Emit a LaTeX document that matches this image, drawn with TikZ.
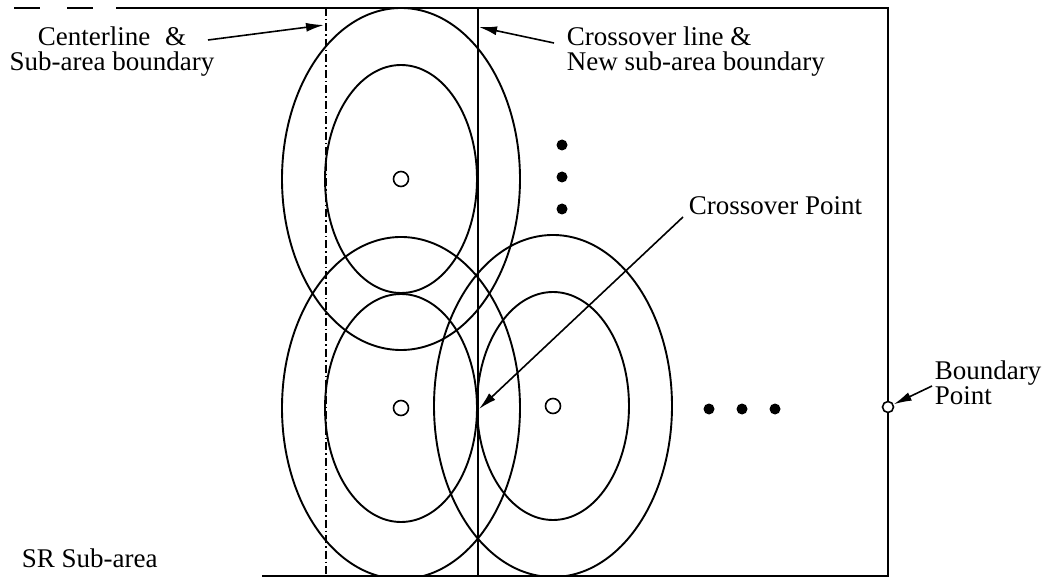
\documentclass[tikz,border=0pt]{standalone}
\usepackage{fontspec}
\setmainfont{Liberation Serif}
\usetikzlibrary{arrows.meta}

\begin{document}
\begin{tikzpicture}[x=1pt, y=-1pt, line width=1.9pt,
  lbl/.style={inner sep=0pt, font=\fontsize{27}{25}\selectfont},
  ptr/.style={-{Latex[length=18pt,width=9pt]}, line width=1.6pt},
  hole/.style={draw, circle, fill=white, inner sep=0pt, minimum size=15pt, line width=1.6pt},
  spot/.style={fill, circle, inner sep=0pt, minimum size=11pt},
  chain/.style={dash pattern=on 8pt off 3pt on 1.5pt off 3pt}]

\useasboundingbox (0,0) rectangle (1047,577);

% Frame of the area
\coordinate (tl) at (116,8);
\coordinate (tr) at (888,8);
\coordinate (br) at (888,576);
\coordinate (bl) at (262,576);
\draw (14,8) -- (40,8);
\draw (67,8) -- (93,8);
\draw (tl) -- (tr) -- (br) -- (bl);

% Centerline and crossover line
\coordinate (ctop) at (326,8);
\coordinate (cbot) at (326,577);
\coordinate (xtop) at (478,8);
\coordinate (xbot) at (478,577);
\draw[chain] (ctop) -- (cbot);
\draw (xtop) -- (xbot);

% Cells
\coordinate (cellA) at (401,179);
\coordinate (cellB) at (401,408);
\coordinate (cellC) at (553,406);
\foreach \c in {cellA,cellB,cellC} {
  \draw (\c) ellipse [x radius=119, y radius=171];
  \draw (\c) ellipse [x radius=76, y radius=114];
  \node[hole] (hole\c) at (\c) {};
}

% More cells
\foreach \y in {145,177,209} \node[spot] (vdot\y) at (562,\y) {};
\foreach \x in {709,742,775} \node[spot] (hdot\x) at (\x,409) {};

% Boundary point
\node[hole, minimum size=11pt] (bpt) at (888,407) {};

% Labels
\node[lbl, anchor=base, align=center] (centlbl) at (112,71) {Centerline\hspace{0.55em}\&\\Sub-area boundary};
\node[lbl, anchor=base west, align=left] (xlinelbl) at (566,71) {Crossover line \&\\New sub-area boundary};
\node[lbl, anchor=base west] (xptlbl) at (688,215) {Crossover Point};
\node[lbl, anchor=base west, align=left] (bptlbl) at (934,404) {Boundary\\Point};
\node[lbl, anchor=base west] (srlbl) at (21,567) {SR Sub-area};

% Pointers
\coordinate (centtail) at (208,40);
\coordinate (centtip) at (324,25);
\coordinate (xlinetail) at (554,43);
\coordinate (xlinetip) at (479,27);
\coordinate (xpttail) at (683,217);
\coordinate (xpoint) at (479,409);
\coordinate (bpttail) at (932,386);
\draw[ptr] (centtail) -- (centtip);
\draw[ptr] (xlinetail) -- (xlinetip);
\draw[ptr] (xpttail) -- (xpoint);
\draw[ptr] (bpttail) -- (bpt);

\end{tikzpicture}
\end{document}
